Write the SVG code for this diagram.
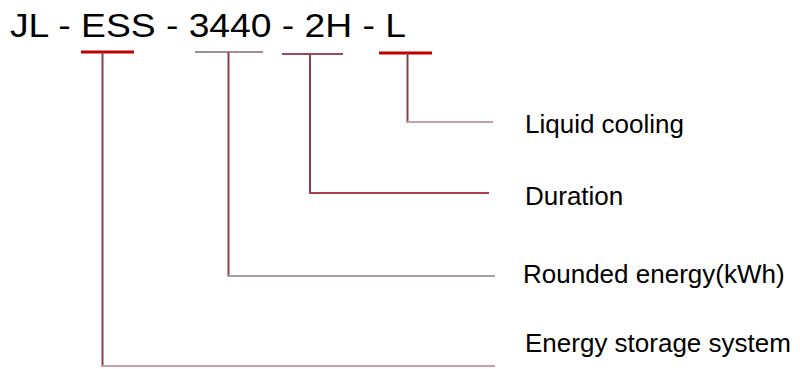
<svg xmlns="http://www.w3.org/2000/svg" width="800" height="369" viewBox="0 0 800 369">
<style>
  text { font-family: "Liberation Sans", Arial, sans-serif; fill: #000; }
  .title { font-size: 34px; }
  .label { font-size: 26px; }
  .red { stroke: #c00000; stroke-width: 3; fill: none; }
  .stem { stroke: #8e3e4a; stroke-width: 2; fill: none; }
  .lead { stroke-width: 2; fill: none; }
</style>
<rect width="800" height="369" fill="#ffffff"/>
<g id="title">
  <text class="title" x="10" y="37" textLength="396" lengthAdjust="spacingAndGlyphs">JL - ESS - 3440 - 2H - L</text>
</g>
<g id="connectors">
  <line class="red" x1="81" y1="52" x2="134" y2="52"/>
  <line class="lead" stroke="#a48c93" x1="195" y1="52" x2="263" y2="52"/>
  <line class="lead" stroke="#9a4a5a" stroke-width="3" x1="282" y1="54" x2="343" y2="54"/>
  <line class="red" x1="379" y1="53" x2="432" y2="53"/>

  <line class="stem" x1="102.5" y1="52" x2="102.5" y2="367"/>
  <line class="lead" stroke="#c8a0a8" x1="102" y1="366" x2="495" y2="366"/>

  <line class="stem" x1="228.5" y1="52" x2="228.5" y2="277"/>
  <line class="lead" stroke="#b09aa0" x1="228" y1="276" x2="495" y2="276"/>

  <line class="stem" x1="310" y1="54" x2="310" y2="194"/>
  <line class="lead" stroke="#a8404e" x1="309" y1="193" x2="489" y2="193"/>

  <line class="stem" x1="407.5" y1="53" x2="407.5" y2="123"/>
  <line class="lead" stroke="#bca4a9" x1="406" y1="122" x2="493" y2="122"/>
</g>
<g id="label-liquid-cooling"><text class="label" x="525" y="133">Liquid cooling</text></g>
<g id="label-duration"><text class="label" x="525" y="205">Duration</text></g>
<g id="label-rounded-energy"><text class="label" x="523" y="283">Rounded energy(kWh)</text></g>
<g id="label-energy-storage"><text class="label" x="525" y="352">Energy storage system</text></g>
</svg>
